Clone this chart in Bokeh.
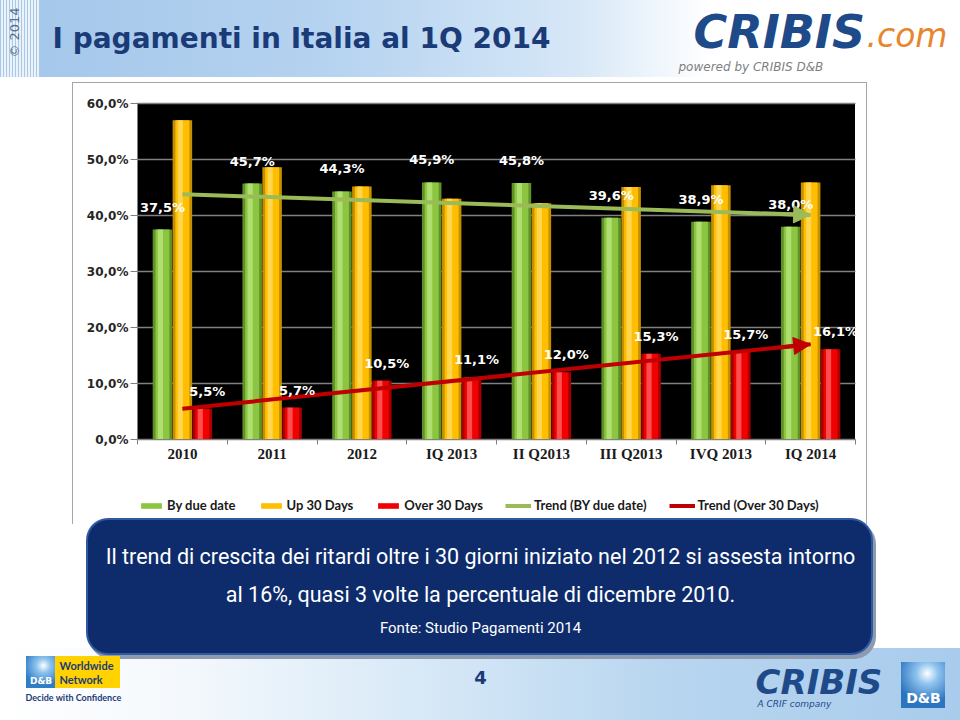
import numpy as np
from bokeh.plotting import figure
from bokeh.models import (Range1d, FixedTicker, Legend, LegendItem, Arrow,
                          NormalHead, Label)
from bokeh.core.properties import value
from bokeh.embed import file_html
from bokeh.resources import INLINE

# ---------------- data ----------------
categories = ["2010", "2011", "2012", "IQ 2013", "II Q2013", "III Q2013", "IVQ 2013", "IQ 2014"]
by_due_date = [37.5, 45.7, 44.3, 45.9, 45.8, 39.6, 38.9, 38.0]
up_30_days = [57.0, 48.6, 45.2, 43.0, 42.2, 45.1, 45.4, 45.9]
over_30_days = [5.5, 5.7, 10.5, 11.1, 12.0, 15.3, 15.7, 16.1]
trend_by_due_date = [43.8, 40.1]      # trend line value at first / last category
trend_over_30_days = [5.5, 17.0]
y_ticks = [0, 10, 20, 30, 40, 50, 60]
y_tick_labels = ["0,0%", "10,0%", "20,0%", "30,0%", "40,0%", "50,0%", "60,0%"]
legend_labels = ["By due date", "Up 30 Days", "Over 30 Days",
                 "Trend (BY due date)", "Trend (Over 30 Days)"]

title_text = "I pagamenti in Italia al 1Q 2014"
box_line1 = "Il trend di crescita dei ritardi oltre i 30 giorni iniziato nel 2012 si assesta intorno"
box_line2 = "al 16%, quasi 3 volte la percentuale di dicembre 2010."
box_source = "Fonte: Studio Pagamenti 2014"
page_number = "4"


def pct(v):
    return f"{v:.1f}".replace(".", ",") + "%"


idx = list(range(len(categories)))
W = 0.222
x_green = [i - W for i in idx]
x_yellow = [i for i in idx]
x_red = [i + W for i in idx]

BOX = "#A6A6A6"
NAVY = "#1B3B78"
BOXBLUE = "#0E2C6C"
SHADOW = "#8E9AAE"

# page geometry (px) of the chart's plotting area
FL, FR, FT, FB = 137, 855, 103, 439
PW, PH = 960, 720
X0, X1 = -0.5, len(categories) - 0.5
Y0, Y1 = y_ticks[0], y_ticks[-1]


def dx(px):
    return X0 + (px - FL) / (FR - FL) * (X1 - X0)


def dy(py):
    return Y0 + (FB - py) / (FB - FT) * (Y1 - Y0)


def rect(color, x, y, w, h):
    return f"linear-gradient({color}, {color}) {x}px {y}px / {w}px {h}px no-repeat"


def rounded(color, x, y, w, h, r):
    d = 2 * r
    circ = f"radial-gradient(circle at {r}px {r}px, {color} {r - 0.6}px, transparent {r + 0.4}px)"
    parts = [f"{circ} {x}px {y}px / {d}px {d}px no-repeat",
             f"{circ} {x + w - d}px {y}px / {d}px {d}px no-repeat",
             f"{circ} {x}px {y + h - d}px / {d}px {d}px no-repeat",
             f"{circ} {x + w - d}px {y + h - d}px / {d}px {d}px no-repeat",
             rect(color, x + r, y, w - d, h),
             rect(color, x, y + r, w, h - d)]
    return ", ".join(parts)


background = ", ".join([
    rounded(BOXBLUE, 88, 520, 783, 133, 20),
    rect("#FFD200", 55, 656, 65, 32),
    "radial-gradient(circle at 60% 30%, #FFFFFF 0%, #8EC3EE 25%, #2F7DC5 70%) 26px 656px / 29px 32px no-repeat",
    "radial-gradient(circle at 60% 25%, #FFFFFF 0%, #8EC3EE 25%, #2C74BF 70%) 901px 662px / 44px 46px no-repeat",
    rounded("#2E5AA5", 86, 518, 787, 137, 22),
    rounded(SHADOW, 89, 522, 787, 137, 22),
    rect("#000000", FL, FT, FR - FL, FB - FT),
    rect(BOX, 72, 82, 795, 1), rect(BOX, 72, 82, 1, 442), rect(BOX, 866, 82, 1, 442),
    "linear-gradient(90deg, #FFFFFF 0%, #F3F8FC 20%, #D6E8F7 45%, #B7D5EF 70%, #A9CCEC 100%) 0 648px / 960px 72px no-repeat",
    "repeating-linear-gradient(90deg, #A9C8E8 0px, #A9C8E8 1px, #EAF2FA 1px, #EAF2FA 3px) 0 0 / 40px 77px no-repeat",
    "linear-gradient(90deg, #A3C6EA 0%, #B6D3F0 35%, #D6E7F7 60%, #FFFFFF 74%) 0 0 / 960px 77px no-repeat",
])

p = figure(width=PW, height=PH, title=None,
           x_range=Range1d(dx(0), dx(PW)), y_range=Range1d(dy(PH), dy(0)),
           output_backend="svg", toolbar_location=None, min_border=0,
           background_fill_alpha=0, border_fill_alpha=0, outline_line_color=None,
           styles={"background": background})

# grid (only across the black plotting area)
p.xgrid.visible = False
p.ygrid.ticker = FixedTicker(ticks=y_ticks)
p.ygrid.grid_line_color = "#808080"
p.ygrid.grid_line_width = 1.5
try:
    p.ygrid.cross_bounds = (X0, X1)
except Exception:
    p.ygrid.visible = False
    p.yaxis.major_tick_in = FR - FL

# y axis, pinned to the chart's left edge
p.yaxis.fixed_location = X0
p.yaxis.bounds = (Y0, Y1)
p.yaxis.ticker = FixedTicker(ticks=y_ticks)
p.yaxis.major_label_overrides = {t: l for t, l in zip(y_ticks, y_tick_labels)}
p.yaxis.major_label_text_font = "DejaVu Sans"
p.yaxis.major_label_text_font_style = "bold"
p.yaxis.major_label_text_font_size = "12px"
p.yaxis.major_label_text_color = "#262626"
p.yaxis.axis_line_color = "#808080"
p.yaxis.major_tick_line_color = "#808080"
p.yaxis.major_tick_out = 7
if p.ygrid.visible:
    p.yaxis.major_tick_in = 0
p.yaxis.minor_tick_line_color = None
p.yaxis.major_label_standoff = 2

# x axis, pinned to 0 %
p.xaxis.fixed_location = Y0
p.xaxis.bounds = (X0, X1)
p.xaxis.ticker = FixedTicker(ticks=idx, minor_ticks=[i - 0.5 for i in idx] + [idx[-1] + 0.5])
p.xaxis.major_label_overrides = {i: c for i, c in zip(idx, categories)}
p.xaxis.major_label_text_font = "Liberation Serif"
p.xaxis.major_label_text_font_style = "bold"
p.xaxis.major_label_text_font_size = "15px"
p.xaxis.major_label_text_color = "#1A1A1A"
p.xaxis.axis_line_color = "#808080"
p.xaxis.major_tick_out = 0
p.xaxis.major_tick_in = 0
p.xaxis.minor_tick_out = 5
p.xaxis.minor_tick_in = 0
p.xaxis.minor_tick_line_color = "#808080"
p.xaxis.major_label_standoff = 1


def cyl_bar(xs, tops, edge, body, light):
    p.vbar(x=xs, top=tops, bottom=0, width=W * 0.98, fill_color=edge, line_color=None)
    main = p.vbar(x=xs, top=tops, bottom=0, width=W * 0.70, fill_color=body, line_color=None)
    p.vbar(x=[x - W * 0.1 for x in xs], top=tops, bottom=0, width=W * 0.26,
           fill_color=light, line_color=None, fill_alpha=0.85)
    return main


r_green = cyl_bar(x_green, by_due_date, "#5F9128", "#8CC640", "#B5E27A")
r_yellow = cyl_bar(x_yellow, up_30_days, "#C58F00", "#FFBF00", "#FFD95A")
r_red = cyl_bar(x_red, over_30_days, "#A80000", "#F00000", "#FF5A5A")

trend_x = [idx[0], idx[-1]]
GREEN_T = "#9BBB59"
RED_T = "#C00000"
r_tg = p.line(x=trend_x, y=trend_by_due_date, line_color=GREEN_T, line_width=4)
r_tr = p.line(x=trend_x, y=trend_over_30_days, line_color=RED_T, line_width=4)
for ys, c in ((trend_by_due_date, GREEN_T), (trend_over_30_days, RED_T)):
    f = 0.95
    xs0 = trend_x[0] + f * (trend_x[1] - trend_x[0])
    ys0 = ys[0] + f * (ys[1] - ys[0])
    p.add_layout(Arrow(end=NormalHead(size=17, fill_color=c, line_color=c),
                       x_start=xs0, y_start=ys0, x_end=trend_x[1], y_end=ys[1],
                       line_color=c, line_width=4))

p.text(x=x_green, y=by_due_date, text=[pct(v) for v in by_due_date],
       text_font=value("DejaVu Sans"), text_font_style="bold", text_font_size="13px",
       text_color="white", text_align="center", text_baseline="bottom", y_offset=-15)
p.text(x=x_red, y=over_30_days, text=[pct(v) for v in over_30_days],
       text_font=value("DejaVu Sans"), text_font_style="bold", text_font_size="13px",
       text_color="white", text_align="center", text_baseline="bottom",
       x_offset=5, y_offset=-10)

legend = Legend(items=[LegendItem(label=legend_labels[0], renderers=[r_green]),
                       LegendItem(label=legend_labels[1], renderers=[r_yellow]),
                       LegendItem(label=legend_labels[2], renderers=[r_red]),
                       LegendItem(label=legend_labels[3], renderers=[r_tg]),
                       LegendItem(label=legend_labels[4], renderers=[r_tr])],
                orientation="horizontal", location=(138, PH - 513), padding=2,
                spacing=22, label_standoff=3, glyph_width=26, glyph_height=7,
                label_text_font="Lato", label_text_font_style="bold",
                label_text_font_size="13px", label_text_color="#1A1A1A",
                background_fill_alpha=0, border_line_color=None)
p.add_layout(legend)


# ---------------- slide texts ----------------
def label(px, py, text, size, color, font="DejaVu Sans", style="normal", align="left",
          baseline="middle", angle=0.0):
    p.add_layout(Label(x=dx(px), y=dy(py), text=text, text_font=font, text_font_style=style,
                       text_font_size=size, text_color=color, text_align=align,
                       text_baseline=baseline, angle=angle))


label(14, 32, "© 2014", "13px", "#5D6E8C", align="center", angle=np.pi / 2)
label(52, 38, title_text, "28px", NAVY, style="bold")
label(693, 31, "CRIBIS", "46px", "#1E4A8A", style="bold italic")
label(866, 35, ".com", "33px", "#E8852E", style="italic")
label(678, 66, "powered by CRIBIS D&B", "12px", "#7F7F7F", style="italic")
label(480, 556, box_line1, "21.5px", "white", font="Roboto", align="center")
label(480, 594, box_line2, "21.5px", "white", font="Roboto", align="center")
label(480, 627, box_source, "15px", "white", font="Roboto", align="center")
label(40.5, 680, "D&B", "9px", "white", style="bold", align="center")
label(59, 665, "Worldwide", "11px", NAVY, font="Lato", style="bold")
label(59, 679, "Network", "11px", NAVY, font="Lato", style="bold")
label(25, 697, "Decide with Confidence", "9px", NAVY, font="Lato", style="bold")
label(480, 677, page_number, "18px", NAVY, style="bold", align="center")
label(755, 681, "CRIBIS", "34px", "#1E4A8A", style="bold italic")
label(757, 703, "A CRIF company", "9px", "#1E4A8A", style="italic")
label(923, 697, "D&B", "14px", "white", style="bold", align="center")

open("out.html", "w").write(file_html(p, INLINE))
